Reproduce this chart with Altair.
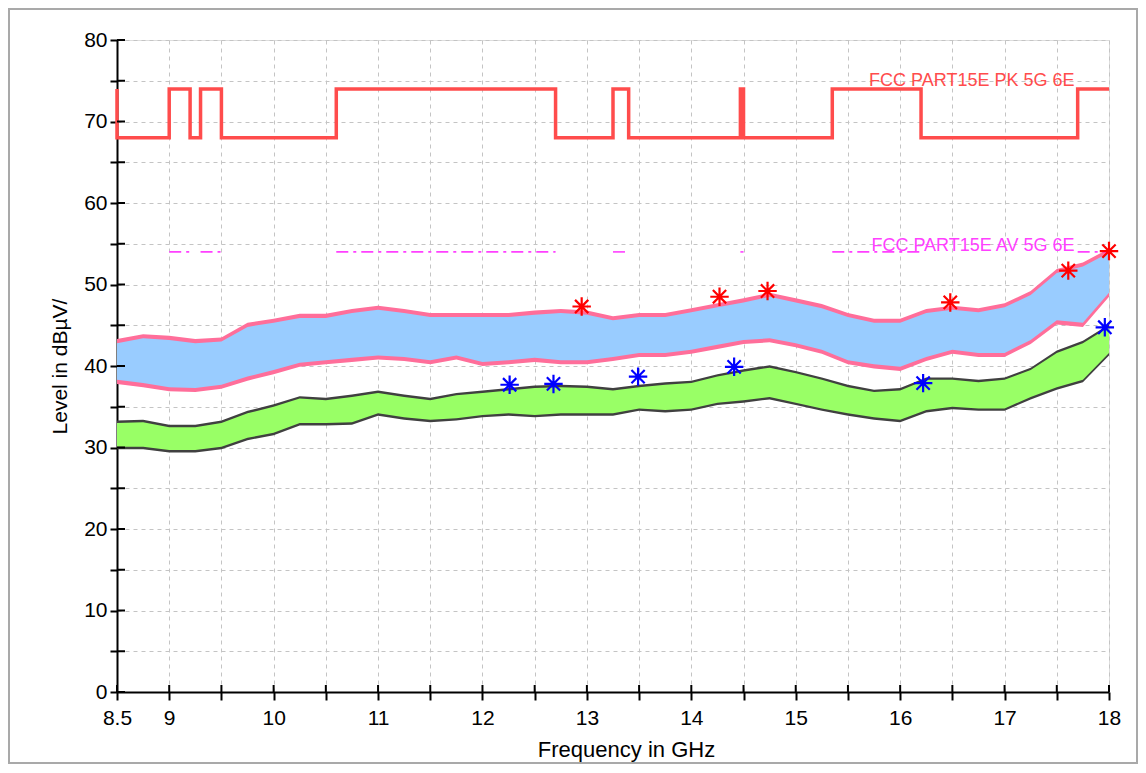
import altair as alt
import pandas as pd

# ---------------- data ----------------
freq = [8.5, 8.75, 9.0, 9.25, 9.5, 9.75, 10.0, 10.25, 10.5, 10.75, 11.0, 11.25, 11.5,
        11.75, 12.0, 12.25, 12.5, 12.75, 13.0, 13.25, 13.5, 13.75, 14.0, 14.25, 14.5,
        14.75, 15.0, 15.25, 15.5, 15.75, 16.0, 16.25, 16.5, 16.75, 17.0, 17.25, 17.5,
        17.75, 18.0]

# Peak trace (light blue) envelope
pk_hi = [42.8, 43.4, 43.2, 42.8, 43.0, 44.8, 45.3, 45.9, 45.9, 46.5, 46.9, 46.5, 46.0,
         46.0, 46.0, 46.0, 46.3, 46.5, 46.3, 45.6, 46.0, 46.0, 46.6, 47.2, 47.8,
         48.5, 47.8, 47.1, 46.0, 45.3, 45.3, 46.5, 46.9, 46.6, 47.2, 48.7, 51.4,
         52.2, 53.9]
pk_lo = [38.3, 37.9, 37.4, 37.3, 37.7, 38.7, 39.5, 40.4, 40.7, 41.0, 41.3, 41.1, 40.7,
         41.3, 40.5, 40.7, 41.0, 40.7, 40.7, 41.1, 41.6, 41.6, 42.0, 42.6, 43.2,
         43.4, 42.8, 42.0, 40.7, 40.2, 39.9, 41.1, 42.0, 41.6, 41.6, 43.2, 45.6,
         45.3, 49.0]
# Second peak trace (pink) envelope
pk2_hi = [43.3, 43.9, 43.7, 43.3, 43.5, 45.3, 45.8, 46.4, 46.4, 47.0, 47.4, 47.0, 46.5,
          46.5, 46.5, 46.5, 46.8, 47.0, 46.8, 46.1, 46.5, 46.5, 47.1, 47.7, 48.3,
          49.0, 48.3, 47.6, 46.5, 45.8, 45.8, 47.0, 47.4, 47.1, 47.7, 49.2, 51.9,
          52.7, 54.4]
pk2_lo = [37.8, 37.4, 36.9, 36.8, 37.2, 38.2, 39.0, 39.9, 40.2, 40.5, 40.8, 40.6, 40.2,
          40.8, 40.0, 40.2, 40.5, 40.2, 40.2, 40.6, 41.1, 41.1, 41.5, 42.1, 42.7,
          42.9, 42.3, 41.5, 40.2, 39.7, 39.4, 40.6, 41.5, 41.1, 41.1, 42.7, 45.1,
          44.8, 48.5]
# Average trace (green) envelope
av_hi = [33.0, 33.1, 32.5, 32.5, 33.0, 34.2, 35.0, 36.0, 35.8, 36.2, 36.7, 36.2, 35.8,
         36.4, 36.7, 37.0, 37.3, 37.4, 37.3, 37.0, 37.4, 37.7, 37.9, 38.7, 39.3,
         39.8, 39.1, 38.3, 37.4, 36.8, 37.0, 38.3, 38.3, 38.0, 38.3, 39.5, 41.6,
         42.8, 44.8]
av_lo = [30.1, 30.1, 29.7, 29.7, 30.1, 31.2, 31.8, 33.0, 33.0, 33.1, 34.2, 33.7, 33.4,
         33.6, 34.0, 34.2, 34.0, 34.2, 34.2, 34.2, 34.8, 34.6, 34.8, 35.5, 35.8,
         36.2, 35.5, 34.8, 34.2, 33.7, 33.4, 34.6, 35.0, 34.8, 34.8, 36.2, 37.4,
         38.3, 41.6]
# Second average trace (dark grey) envelope
av2_hi = [33.3, 33.4, 32.8, 32.8, 33.3, 34.5, 35.3, 36.3, 36.1, 36.5, 37.0, 36.5, 36.1,
          36.7, 37.0, 37.3, 37.6, 37.7, 37.6, 37.3, 37.7, 38.0, 38.2, 39.0, 39.6,
          40.1, 39.4, 38.6, 37.7, 37.1, 37.3, 38.6, 38.6, 38.3, 38.6, 39.8, 41.9,
          43.1, 45.1]
av2_lo = [29.8, 29.8, 29.4, 29.4, 29.8, 30.9, 31.5, 32.7, 32.7, 32.8, 33.9, 33.4, 33.1,
          33.3, 33.7, 33.9, 33.7, 33.9, 33.9, 33.9, 34.5, 34.3, 34.5, 35.2, 35.5,
          35.9, 35.2, 34.5, 33.9, 33.4, 33.1, 34.3, 34.7, 34.5, 34.5, 35.9, 37.1,
          38.0, 41.3]

# Peak limit (stepped)
lim_f = [8.5, 8.5, 9.0, 9.0, 9.2, 9.2, 9.3, 9.3, 9.5, 9.5, 10.6, 10.6, 12.7, 12.7,
         13.25, 13.25, 13.4, 13.4, 14.47, 14.47, 14.5, 14.5, 15.35, 15.35, 16.2, 16.2,
         17.7, 17.7, 18.0]
lim_l = [74, 68, 68, 74, 74, 68, 68, 74, 74, 68, 68, 74, 74, 68, 68, 74, 74, 68, 68,
         74, 74, 68, 68, 74, 74, 68, 68, 74, 74]

# Average limit segments (restricted bands)
av_seg_start = [9.0, 9.3, 10.6, 13.25, 14.47, 15.35, 17.7]
av_seg_end = [9.2, 9.5, 12.7, 13.4, 14.5, 16.2, 18.0]
av_limit = 54

# Final measurement markers
pk_mark_f = [12.95, 14.27, 14.73, 16.48, 17.61, 18.0]
pk_mark_l = [47.3, 48.5, 49.2, 47.8, 51.7, 54.1]
av_mark_f = [12.26, 12.68, 13.49, 14.41, 16.22, 17.96]
av_mark_l = [37.7, 37.8, 38.7, 39.9, 37.9, 44.75]

y_ticks = [0, 5, 10, 15, 20, 25, 30, 35, 40, 45, 50, 55, 60, 65, 70, 75, 80]
x_ticks = [8.5, 9.0, 9.5, 10.0, 10.5, 11.0, 11.5, 12.0, 12.5, 13.0, 13.5, 14.0, 14.5,
           15.0, 15.5, 16.0, 16.5, 17.0, 17.5, 18.0]

# ---------------- tables ----------------
bands = pd.DataFrame({"f": freq, "pk_hi": pk_hi, "pk_lo": pk_lo, "pk2_hi": pk2_hi,
                      "pk2_lo": pk2_lo, "av_hi": av_hi, "av_lo": av_lo,
                      "av2_hi": av2_hi, "av2_lo": av2_lo})
lim = pd.DataFrame({"f": lim_f, "l": lim_l, "i": list(range(len(lim_f)))})
avseg = pd.DataFrame({"f": av_seg_start, "b": av_seg_end, "l": [av_limit] * len(av_seg_start)})
pkm = pd.DataFrame({"f": pk_mark_f, "l": pk_mark_l})
avm = pd.DataFrame({"f": av_mark_f, "l": av_mark_l})
yt = pd.DataFrame({"l": y_ticks})
xt = pd.DataFrame({"f": x_ticks})
labels = pd.DataFrame({"f": [17.67, 17.67], "l": [74.3, 54.1],
                       "t": ["FCC PART15E PK 5G 6E", "FCC PART15E AV 5G 6E"],
                       "c": ["#FF4C4C", "#FF40FF"]})

FONT = "Liberation Sans"
xs = alt.Scale(domain=[8.5, 18], nice=False, zero=False)
ys = alt.Scale(domain=[0, 80], nice=False, zero=False)
W, H = 992, 652

X_AX = alt.Axis(values=x_ticks, format="~g",
                labelExpr="(datum.value % 1 == 0.5 && datum.value > 9) ? '' : datum.label",
                grid=True, gridDash=[4, 4], gridColor="#C4C4C4", gridWidth=1,
                domainColor="black", domainWidth=2, tickColor="black",
                tickWidth=2, tickSize=8, labelPadding=7,
                labelFont=FONT, labelFontSize=21, labelColor="black",
                titleFont=FONT, titleFontSize=22, titleFontWeight="normal",
                titleColor="black", titlePadding=11, titleX=509,
                labelFlush=False)
Y_AX = alt.Axis(values=y_ticks,
                labelExpr="datum.value % 10 == 0 ? datum.label : ''",
                grid=True, gridDash=[4, 4], gridColor="#C4C4C4", gridWidth=1,
                domainColor="black", domainWidth=2, tickColor="black",
                tickWidth=2, tickSize=7, labelPadding=3,
                labelFont=FONT, labelFontSize=21, labelColor="black",
                titleFont=FONT, titleFontSize=21, titleFontWeight="normal",
                titleColor="black", titlePadding=13, labelFlush=False)
XT = "Frequency in GHz"
YT = "Level in dBµV/"


def X(field):
    return alt.X(field, scale=xs, axis=X_AX, title=XT)


def Y(field):
    return alt.Y(field, scale=ys, axis=Y_AX, title=YT)


def band(hi, lo, color):
    return alt.Chart(bands).mark_area(color=color, opacity=1).encode(
        x=X("f:Q"), y=Y(f"{hi}:Q"), y2=f"{lo}:Q")


pink = band("pk2_hi", "pk2_lo", "#FF6E9A")
blue = band("pk_hi", "pk_lo", "#99CCFF")
grey = band("av2_hi", "av2_lo", "#404040")
green = band("av_hi", "av_lo", "#99FF66")

limit_line = alt.Chart(lim).mark_line(color="#FF4C4C", strokeWidth=3.5,
                                      strokeJoin="miter").encode(
    x=X("f:Q"), y=Y("l:Q"), order="i:Q")

av_line = alt.Chart(avseg).mark_rule(color="#FF40FF", strokeWidth=1.6,
                                     strokeDash=[12, 5, 3, 5]).encode(
    x=X("f:Q"), x2="b:Q", y=Y("l:Q"))

ASTER = "M0,-1L0,1M-1,0L1,0M-0.72,-0.72L0.72,0.72M-0.72,0.72L0.72,-0.72"
pk_marks = alt.Chart(pkm).mark_point(shape=ASTER, filled=False, color="#FF0000",
                                     strokeWidth=2.2, size=340, opacity=1).encode(
    x=X("f:Q"), y=Y("l:Q"))
av_marks = alt.Chart(avm).mark_point(shape=ASTER, filled=False, color="#0000FF",
                                     strokeWidth=2.2, size=340, opacity=1).encode(
    x=X("f:Q"), y=Y("l:Q"))

inner_y_ticks = alt.Chart(yt).mark_rule(color="black", strokeWidth=2).encode(
    y=Y("l:Q"), x=alt.value(0), x2=alt.value(8))
inner_x_ticks = alt.Chart(xt).mark_rule(color="black", strokeWidth=2).encode(
    x=X("f:Q"), y=alt.value(H), y2=alt.value(H - 7))

lim_text = alt.Chart(labels).mark_text(align="right", baseline="alphabetic",
                                       font=FONT, fontSize=18).encode(
    x=X("f:Q"), y=Y("l:Q"), text="t:N", color=alt.Color("c:N", scale=None))

frame = alt.Chart(yt).mark_rect(fill=None, stroke="#A9A9A9", strokeWidth=2).encode(
    x=alt.value(-108), x2=alt.value(1020), y=alt.value(-31), y2=alt.value(723))

chart = alt.layer(
    pink, blue, grey, green, limit_line, av_line, lim_text,
    pk_marks, av_marks, inner_y_ticks, inner_x_ticks, frame
).properties(
    width=W, height=H,
    autosize=alt.AutoSizeParams(type="none"),
    padding={"left": 109, "top": 32, "right": 29, "bottom": 72},
).configure_view(stroke=None).configure(background="white")

chart.save("out.html", embed_options={"renderer": "svg", "actions": False})
